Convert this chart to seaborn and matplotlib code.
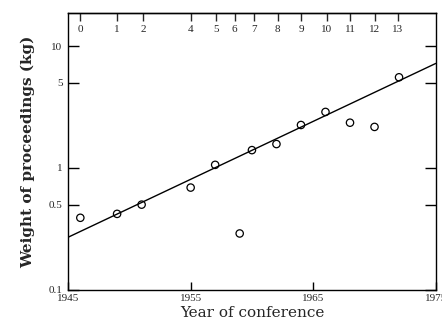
"""Weight of conference proceedings against year, log scale."""

import matplotlib

matplotlib.use("Agg")

import matplotlib.pyplot as plt
import pandas as pd
import seaborn as sns

years = [1946, 1949, 1951, 1955, 1957, 1959, 1960, 1962, 1964, 1966, 1968, 1970, 1972]
weights_kg = [0.39, 0.42, 0.50, 0.69, 1.06, 0.29, 1.40, 1.57, 2.25, 2.88, 2.35, 2.17, 5.54]

fit_years = [1945, 1975]
fit_weights_kg = [0.27, 7.2]

conf_numbers = ["0", "1", "2", "4", "5", "6", "7", "8", "9", "10", "11", "12", "13"]
conf_tick_years = [1946, 1949, 1951.1, 1955, 1957.1, 1958.6, 1960.2, 1962.1, 1964, 1966.1, 1968, 1970, 1971.9]

year_ticks = [1945, 1955, 1965, 1975]
weight_ticks = [0.1, 0.5, 1, 5, 10]
weight_labels = ["0.1", "0.5", "1", "5", "10"]

TICK_FONT = "Liberation Serif"
LABEL_FONT = "DejaVu Serif"

sns.set_style("ticks")
plt.rcParams["font.family"] = [TICK_FONT, "DejaVu Serif"]

points = pd.DataFrame({"year": years, "weight": weights_kg})
fit = pd.DataFrame({"year": fit_years, "weight": fit_weights_kg})

fig = plt.figure(figsize=(4.42, 3.29), dpi=100)
ax = fig.add_axes([0.154, 0.119, 0.832, 0.841])

sns.lineplot(data=fit, x="year", y="weight", ax=ax, color="black", linewidth=1.0)
sns.scatterplot(
    data=points,
    x="year",
    y="weight",
    ax=ax,
    s=28,
    marker="o",
    facecolor="none",
    edgecolor="black",
    linewidth=0.9,
    zorder=3,
)

ax.set_yscale("log")
ax.set_xlim(1945, 1975)
ax.set_ylim(0.1, 18.6)

ax.set_xticks(year_ticks)
ax.set_xticklabels([str(y) for y in year_ticks], fontsize=8, family=TICK_FONT)
ax.set_yticks(weight_ticks)
ax.set_yticklabels(weight_labels, fontsize=8, family=TICK_FONT)
ax.minorticks_off()
ax.tick_params(axis="x", direction="in", length=6, width=1, pad=3, color="black")
ax.tick_params(axis="y", direction="in", length=8, width=1, pad=4, right=True, color="black")

top = ax.secondary_xaxis("top")
top.set_xticks(conf_tick_years)
top.set_xticklabels(conf_numbers, fontsize=8, family=TICK_FONT)
top.tick_params(direction="in", length=6, width=1, pad=-15)

for spine in ax.spines.values():
    spine.set_linewidth(1.0)
    spine.set_color("black")
top.spines["top"].set_linewidth(1.0)

ax.set_xlabel("Year of conference", fontsize=11, family=LABEL_FONT, labelpad=2)
ax.set_ylabel("Weight of proceedings (kg)", fontsize=11, family=LABEL_FONT, fontweight="semibold", labelpad=10)

fig.savefig("out.png", dpi=100)
